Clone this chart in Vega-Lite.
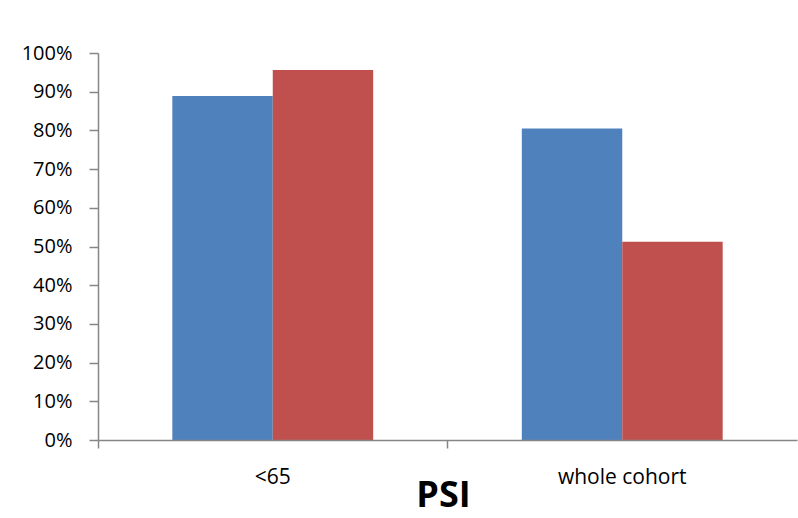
{
  "$schema": "https://vega.github.io/schema/vega-lite/v6.json",
  "autosize": "none",
  "padding": {"left": 98, "top": 53, "right": 1, "bottom": 78},
  "width": 699,
  "height": 387,
  "background": "white",
  "data": {
    "values": [
      {"group": "<65", "series": "Series 1", "value": 0.889},
      {"group": "<65", "series": "Series 2", "value": 0.956},
      {"group": "whole cohort", "series": "Series 1", "value": 0.805},
      {"group": "whole cohort", "series": "Series 2", "value": 0.512}
    ]
  },
  "config": {
    "view": {"stroke": null},
    "font": "Open Sans"
  },
  "mark": {"type": "bar"},
  "encoding": {
    "x": {
      "field": "group",
      "type": "nominal",
      "sort": ["<65", "whole cohort"],
      "scale": {"paddingInner": 0, "paddingOuter": 0},
      "axis": {
        "title": "PSI",
        "titleFont": "Open Sans",
        "titleFontSize": 36,
        "titleFontWeight": "bold",
        "titleColor": "black",
        "titleBaseline": "alphabetic",
        "titleX": 345,
        "titleY": 66,
        "labelAngle": 0,
        "labelFontSize": 21,
        "labelColor": "black",
        "labelPadding": 18,
        "bandPosition": 0,
        "tickSize": 8,
        "tickColor": "#868686",
        "domainColor": "#868686",
        "domainWidth": 1.5,
        "tickWidth": 1.5,
        "grid": false,
        "zindex": 1
      }
    },
    "xOffset": {
      "field": "series",
      "type": "nominal",
      "scale": {"paddingInner": 0, "paddingOuter": 0.74}
    },
    "y": {
      "field": "value",
      "type": "quantitative",
      "scale": {"domain": [0, 1], "nice": false},
      "axis": {
        "title": null,
        "values": [0, 0.1, 0.2, 0.3, 0.4, 0.5, 0.6, 0.7, 0.8, 0.9, 1],
        "format": ".0%",
        "labelFontSize": 20,
        "labelColor": "black",
        "labelPadding": 17,
        "tickSize": 9,
        "tickColor": "#868686",
        "domainColor": "#868686",
        "domainWidth": 1.5,
        "tickWidth": 1.5,
        "grid": false,
        "zindex": 1
      }
    },
    "color": {
      "field": "series",
      "type": "nominal",
      "scale": {"range": ["#4F81BD", "#C0504D"]},
      "legend": null
    }
  }
}
